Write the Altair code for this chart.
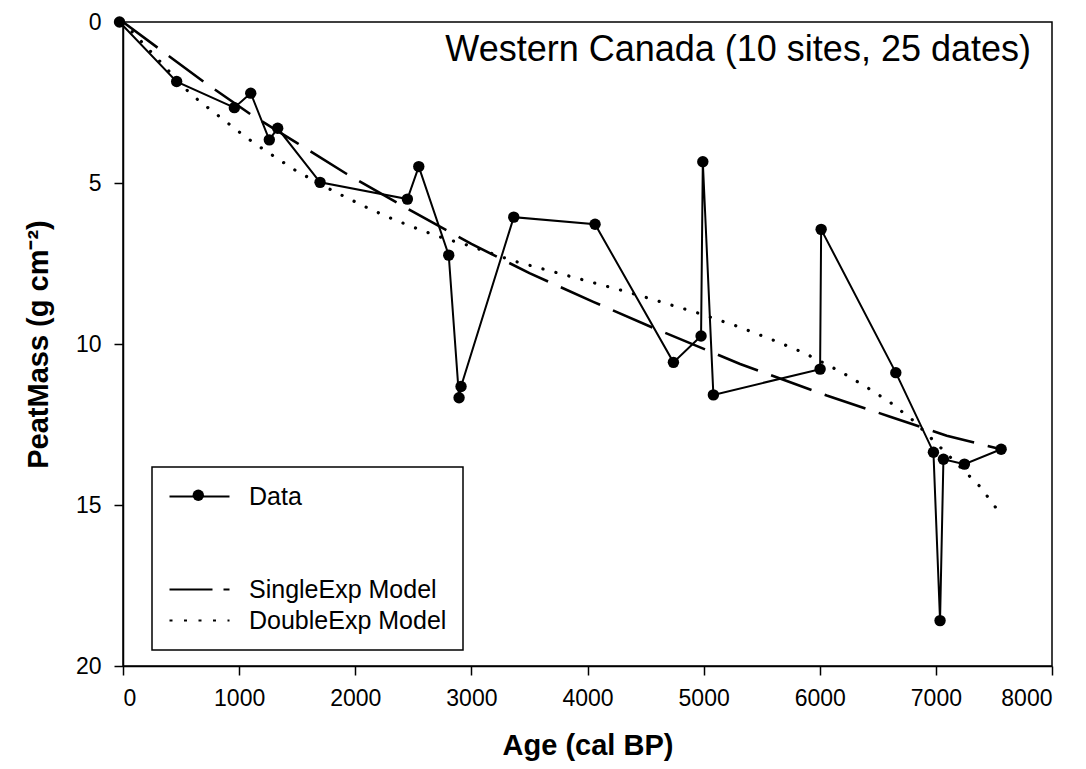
import altair as alt
import pandas as pd

# ---- data ----
data_age = [-30, 462, 959, 1100, 1260, 1332, 1697, 2449, 2547, 2805,
            2894, 2911, 3365, 4065, 4740, 4978, 4993, 5084, 6003, 6012,
            6655, 6979, 7036, 7065, 7246, 7562]
data_mass = [0, 1.85, 2.66, 2.21, 3.66, 3.30, 4.98, 5.50, 4.49, 7.24,
             11.67, 11.32, 6.06, 6.28, 10.57, 9.75, 4.34, 11.58, 10.78, 6.44,
             10.89, 13.36, 18.59, 13.58, 13.73, 13.27]

single_age = [0, 692, 1108, 1500, 1927, 2500, 3000, 3500, 4050, 4600,
              5314, 6060, 6600, 7094, 7562]
single_mass = [0, 1.85, 2.89, 3.76, 4.72, 5.90, 6.89, 7.80, 8.69, 9.55,
               10.62, 11.60, 12.25, 12.85, 13.27]

double_age = [0, 548, 652, 1059, 1174, 1490, 1811, 2127, 2343, 2564,
              2788, 2917, 3362, 4280, 4510, 4740, 4963, 5191, 5299, 5635,
              5854, 5960, 6190, 6399, 6606, 6806, 7381, 7553]
double_mass = [0, 2.11, 2.44, 3.58, 3.87, 4.62, 5.25, 5.81, 6.15, 6.46,
               6.75, 6.87, 7.42, 8.32, 8.56, 8.81, 9.05, 9.33, 9.46, 9.93,
               10.26, 10.45, 10.88, 11.33, 11.81, 12.38, 14.43, 15.26]

legend_labels = ["Data", " ", "  ", "SingleExp Model", "DoubleExp Model"]
x_ticks = [0, 1000, 2000, 3000, 4000, 5000, 6000, 7000, 8000]
y_ticks = [0, 5, 10, 15, 20]
chart_title = "Western Canada (10 sites, 25 dates)"
x_title = "Age (cal BP)"
y_title = "PeatMass (g cm\u207b\u00b2)"

# ---- tables ----
df_data = pd.DataFrame({"age": data_age, "mass": data_mass,
                        "idx": list(range(len(data_age)))})
df_single = pd.DataFrame({"age": single_age, "mass": single_mass})
df_double = pd.DataFrame({"age": double_age, "mass": double_mass})
df_empty = pd.DataFrame({"age": pd.Series([], dtype=float),
                         "mass": pd.Series([], dtype=float),
                         "series": pd.Series([], dtype=str)})
df_title = pd.DataFrame({"t": [chart_title]})

FONT = "Liberation Sans"

x_enc = alt.X("age:Q", scale=alt.Scale(domain=[0, 8000], nice=False, zero=False),
              axis=alt.Axis(values=x_ticks, format="d", title=x_title))
y_enc = alt.Y("mass:Q", scale=alt.Scale(domain=[0, 20], reverse=True, nice=False),
              axis=alt.Axis(values=y_ticks, format="d", title=y_title))

single = alt.Chart(df_single).mark_line(
    color="black", strokeWidth=2.6, strokeDash=[43, 14]
).encode(x=x_enc, y=y_enc)

double = alt.Chart(df_double).mark_line(
    color="black", strokeWidth=3.2, strokeDash=[0.1, 13.3], strokeCap="round"
).encode(x=x_enc, y=y_enc)

data_line = alt.Chart(df_data).mark_line(color="black", strokeWidth=2).encode(
    x=x_enc, y=y_enc, order=alt.Order("idx:Q"))

data_pts = alt.Chart(df_data).mark_circle(color="black", size=130, opacity=1).encode(
    x=x_enc, y=y_enc)

# legend A: line samples and labels (carried by an empty line layer)
dash_list = [[1, 0], [0, 100], [0, 100], [43, 11], [3, 11.5]]
leg_lines = alt.Legend(
    title=None, orient="none", legendX=29, legendY=445,
    padding=16, strokeColor="black",
    labelFontSize=25, labelFont=FONT, labelColor="black",
    labelOffset=54, symbolType="M-1,0H4", symbolSize=576, rowPadding=4,
    symbolStrokeWidth=2.2, symbolStrokeColor="black", labelLimit=400,
)
legend_lines = alt.Chart(df_empty).mark_line(color="black", strokeWidth=2.2).encode(
    x=x_enc, y=y_enc,
    strokeDash=alt.StrokeDash("series:N",
                              scale=alt.Scale(domain=legend_labels, range=dash_list),
                              legend=leg_lines),
)

# legend B: the dot on the "Data" sample line
leg_dot = alt.Legend(
    title=None, orient="none", legendX=69.3, legendY=467.3, padding=0,
    symbolType="circle", symbolSize=130, labelExpr="''", labelFontSize=1,
    labelOffset=0, symbolStrokeWidth=0, symbolFillColor="black", symbolOpacity=1,
)
legend_dot = alt.Chart(df_empty).mark_circle(color="black", opacity=1).encode(
    x=x_enc, y=y_enc,
    fill=alt.Fill("series:N", scale=alt.Scale(domain=["Data"], range=["black"]),
                  legend=leg_dot),
)

title_text = alt.Chart(df_title).mark_text(
    align="right", baseline="alphabetic", fontSize=36, font=FONT, color="black"
).encode(text="t:N", x=alt.value(908), y=alt.value(39))

chart = alt.layer(single, double, data_line, data_pts, legend_lines, legend_dot,
                  title_text).resolve_legend(fill="independent", strokeDash="independent").properties(
    width=929, height=644,
    autosize=alt.AutoSizeParams(type="none"),
    padding={"left": 115, "top": 14, "right": 20, "bottom": 100},
).configure_view(
    stroke="black", strokeWidth=1.5
).configure_axis(
    grid=False, domainColor="black", domainWidth=1.5, tickColor="black",
    tickWidth=1.5, tickSize=9, labelFont=FONT, labelFontSize=23, labelColor="black",
    titleFont=FONT, titleFontSize=29, titleFontWeight="bold", titleColor="black",
).configure_axisX(
    labelPadding=12, titlePadding=21
).configure_axisY(
    labelPadding=13, titlePadding=22
).configure_legend(
    strokeWidth=1.5
)

chart.save("out.html", embed_options={"renderer": "svg", "actions": False})
